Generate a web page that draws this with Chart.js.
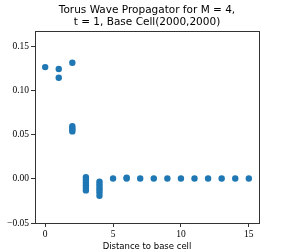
<!DOCTYPE html>
<html>
<head>
<meta charset="utf-8">
<script src="https://cdn.jsdelivr.net/npm/chart.js@4/dist/chart.umd.min.js"></script>
<style>
  html, body { margin: 0; padding: 0; background: #fff; }
  #wrap { width: 288px; height: 252px; }
</style>
</head>
<body>
<div id="wrap"><canvas id="chart" width="288" height="252"></canvas></div>
<script>
// distance to base cell (x) and propagator value (y)
const distances = [
  0,
  1, 1,
  2, 2, 2, 2, 2,
  3, 3, 3, 3, 3, 3,
  4, 4, 4, 4, 4, 4,
  5, 6, 6, 7, 8, 9, 10, 11, 12, 13, 14, 15
];
const values = [
  0.127,
  0.1248, 0.115,
  0.132, 0.060, 0.058, 0.056, 0.054,
  0.002, -0.001, -0.004, -0.007, -0.010, -0.013,
  -0.003, -0.006, -0.009, -0.012, -0.015, -0.019,
  0.0005, 0.0005, 0.0015, 0.0005, 0.0005, 0.0005, 0.0005, 0.0005, 0.0005, 0.0005, 0.0005, 0.0005
];
const xTicks = [0, 5, 10, 15];
const yTicks = [-0.05, 0.00, 0.05, 0.10, 0.15];
const titleLines = ['Torus Wave Propagator for M = 4,', 't = 1, Base Cell(2000,2000)'];

const points = distances.map((d, i) => ({ x: d, y: values[i] }));

// frame around the plot area (all four spines) + title centred over the axes
const framePlugin = {
  id: 'frame',
  afterDraw(chart) {
    const { ctx, chartArea: a } = chart;
    ctx.save();
    ctx.strokeStyle = '#333';
    ctx.lineWidth = 1;
    ctx.strokeRect(a.left + 0.5, a.top + 0.5, a.right - a.left, a.bottom - a.top);
    ctx.fillStyle = '#000';
    ctx.font = '10.5px "DejaVu Sans", sans-serif';
    ctx.textAlign = 'center';
    ctx.textBaseline = 'middle';
    const cx = (a.left + a.right) / 2;
    titleLines.forEach((t, i) => ctx.fillText(t, cx, 10 + i * 12));
    ctx.restore();
  }
};

const tickFont = { family: '"Liberation Serif", "DejaVu Serif", serif', size: 9.5 };

new Chart(document.getElementById('chart').getContext('2d'), {
  type: 'scatter',
  data: {
    datasets: [{
      data: points,
      backgroundColor: '#1f77b4',
      borderWidth: 0,
      pointRadius: 3.2,
      pointHoverRadius: 3.2
    }]
  },
  options: {
    responsive: false,
    animation: false,
    layout: { padding: { left: 0, right: 29, top: 31, bottom: 0 } },
    plugins: {
      legend: { display: false },
      tooltip: { enabled: false },
      title: { display: false }
    },
    scales: {
      x: {
        type: 'linear',
        min: -0.75,
        max: 15.75,
        afterBuildTicks: s => { s.ticks = xTicks.map(v => ({ value: v })); },
        afterFit: s => { s.height = 29; },
        grid: { display: true, drawOnChartArea: false, drawTicks: true, tickLength: 4, color: '#333' },
        border: { display: true, color: '#333' },
        ticks: { color: '#000', font: tickFont, padding: 2, maxRotation: 0,
                 callback: v => String(v) },
        title: {
          display: true,
          text: 'Distance to base cell',
          color: '#000',
          font: { family: '"DejaVu Sans", sans-serif', size: 8.5 },
          padding: { top: 0, bottom: 0 }
        }
      },
      y: {
        type: 'linear',
        min: -0.05,
        max: 0.168,
        afterBuildTicks: s => { s.ticks = yTicks.map(v => ({ value: v })); },
        afterFit: s => { s.width = 35; },
        grid: { display: true, drawOnChartArea: false, drawTicks: true, tickLength: 4, color: '#333' },
        border: { display: true, color: '#333' },
        ticks: { color: '#000', font: tickFont, padding: 2,
                 callback: v => (v < 0 ? '\u2212' : '') + Math.abs(v).toFixed(2) }
      }
    }
  },
  plugins: [framePlugin]
});
</script>
</body>
</html>
